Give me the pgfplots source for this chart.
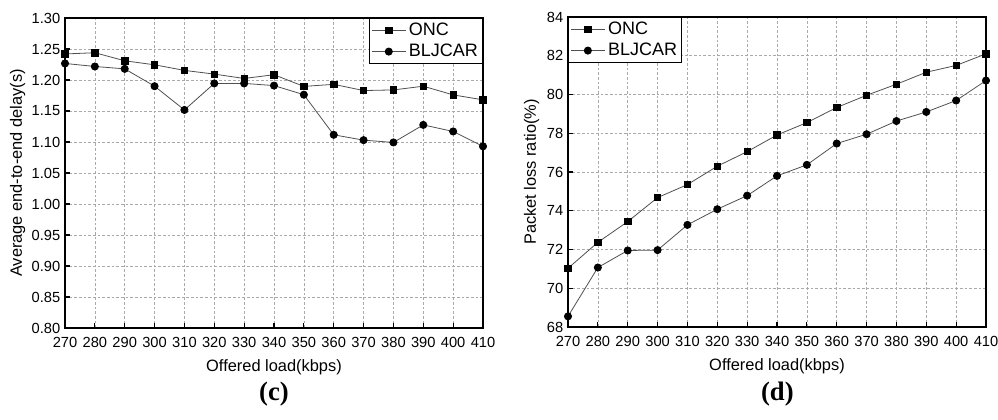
\documentclass[border=0pt]{standalone}
\usepackage{pgfplots}
\pgfplotsset{compat=1.18}
\usepackage{fontspec}
\setmainfont{Liberation Sans}
\newfontfamily\capfont{Liberation Serif}
\definecolor{linegray}{RGB}{80,80,80}
\definecolor{gridgray}{RGB}{170,170,170}
\pgfplotsset{
  myaxis/.style={
    scale only axis,
    width=313.5pt, height=232.5pt,
    anchor=south west,
    xmin=270, xmax=410,
    xtick={270,280,...,410},
    tick pos=left,
    tick align=inside,
    major tick length=4pt,
    grid=major,
    major grid style={gridgray, dash pattern=on 2pt off 1.5pt, line width=0.4pt},
    axis line style={black, line width=1pt},
    tick style={black, line width=0.8pt},
    /pgf/number format/assume math mode=true,
    tick label style={font=\fontsize{11}{13}\selectfont},
    xticklabel style={yshift=-3.5pt},
    label style={font=\fontsize{12.3}{14}\selectfont},
    xlabel={Offered load(kbps)},
    xlabel style={yshift=-2pt},
    legend style={font=\fontsize{13.5}{15}\selectfont, draw=black, line width=0.6pt,
      inner sep=1.5pt, row sep=1pt, cells={anchor=west}},
    legend image code/.code={\draw[mark repeat=2,mark phase=2] plot coordinates {(0cm,0cm) (0.45cm,0cm) (0.9cm,0cm)};},
    every axis plot/.append style={linegray, line width=0.6pt},
  },
  onc/.style={mark=square*, mark size=2.4pt, mark options={black, fill=black, solid}},
  blj/.style={mark=*, mark size=2.7pt, mark options={black, fill=black, solid}},
}
\begin{document}
\begin{tikzpicture}
\path[use as bounding box] (0,0) rectangle (748.5pt,314.25pt);
\begin{axis}[myaxis, at={(48.75pt,68.25pt)},
  ymin=0.80, ymax=1.30, ytick={0.80,0.85,...,1.30},
  yticklabel style={/pgf/number format/.cd, fixed, fixed zerofill, precision=2},
  ylabel={Average end-to-end delay(s)},
  ylabel style={yshift=-2pt},
  legend style={at={(1,1)}, anchor=north east},
]
\addplot[onc] coordinates {(270,1.242)(280,1.244)(290,1.231)(300,1.2245)(310,1.2155)(320,1.2095)(330,1.2025)(340,1.2085)(350,1.1897)(360,1.193)(370,1.183)(380,1.184)(390,1.190)(400,1.176)(410,1.168)};
\addlegendentry{ONC}
\addplot[blj] coordinates {(270,1.2267)(280,1.2218)(290,1.218)(300,1.190)(310,1.1517)(320,1.1945)(330,1.1945)(340,1.191)(350,1.1763)(360,1.1116)(370,1.103)(380,1.0993)(390,1.1276)(400,1.117)(410,1.093)};
\addlegendentry{BLJCAR}
\end{axis}
\begin{axis}[myaxis, at={(426pt,69pt)},
  ymin=68, ymax=84, ytick={68,70,...,84},
  ylabel={Packet loss ratio(\%)},
  ylabel style={yshift=-1pt},
  legend style={at={(0,1)}, anchor=north west},
]
\addplot[onc] coordinates {(270,71.03)(280,72.37)(290,73.44)(300,74.68)(310,75.35)(320,76.3)(330,77.05)(340,77.91)(350,78.55)(360,79.33)(370,79.96)(380,80.53)(390,81.15)(400,81.5)(410,82.1)};
\addlegendentry{ONC}
\addplot[blj] coordinates {(270,68.55)(280,71.07)(290,71.95)(300,71.97)(310,73.27)(320,74.08)(330,74.78)(340,75.8)(350,76.37)(360,77.47)(370,77.95)(380,78.63)(390,79.1)(400,79.69)(410,80.72)};
\addlegendentry{BLJCAR}
\end{axis}
\node[font=\capfont\bfseries\fontsize{20}{24}\selectfont] at (205.5pt,19pt) {(c)};
\node[font=\capfont\bfseries\fontsize{20}{24}\selectfont] at (583pt,19pt) {(d)};
\end{tikzpicture}
\end{document}
